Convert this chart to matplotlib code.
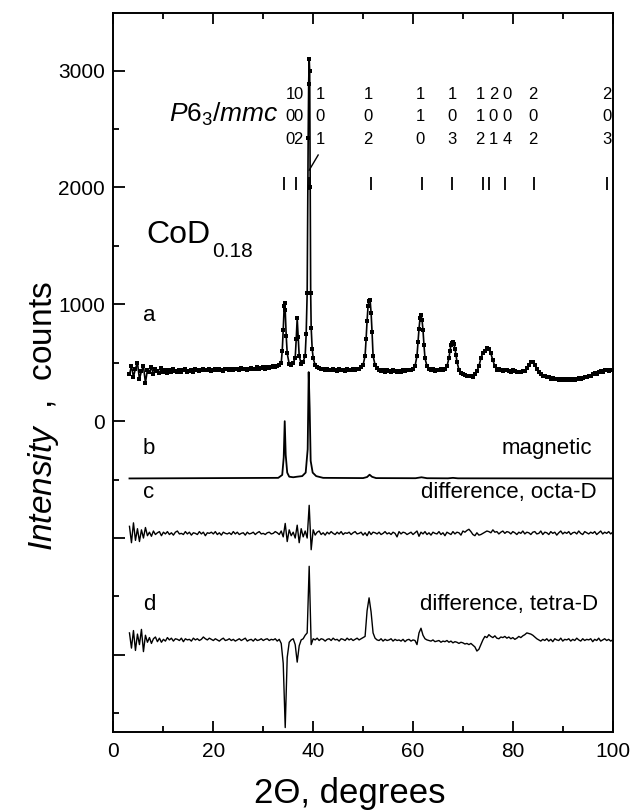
import numpy as np
import matplotlib
matplotlib.use('Agg')
import matplotlib.pyplot as plt
from matplotlib.ticker import MultipleLocator, FuncFormatter

plt.rcParams['font.family'] = ['Liberation Sans', 'DejaVu Sans']
plt.rcParams['mathtext.fontset'] = 'custom'
plt.rcParams['mathtext.it'] = 'Liberation Sans:italic'
plt.rcParams['mathtext.rm'] = 'Liberation Sans'

# ---- data -------------------------------------------------------------
# scan grid (2-theta, degrees), 0.4 deg step from 3.2 to 100
angle = np.linspace(3.2, 100.0, 243)

# a: observed pattern, counts
a_counts = [
    400, 470, 380, 450, 500, 360, 430, 470, 330, 440,
    420, 460, 400, 445, 430, 410, 455, 425, 440, 415,
    435, 420, 445, 430, 425, 440, 420, 435, 445, 425,
    430, 440, 425, 445, 435, 430, 440, 450, 435, 440,
    445, 430, 440, 450, 435, 445, 440, 430, 445, 450,
    440, 445, 435, 450, 445, 440, 455, 445, 450, 440,
    450, 455, 445, 450, 460, 450, 455, 460, 450, 465,
    455, 460, 470, 465, 475, 480, 500, 780, 950, 580,
    490, 480, 500, 540, 880, 560, 490, 510, 560, 1100,
    3100, 800, 540, 480, 465, 455, 450, 445, 440, 445,
    440, 435, 445, 440, 430, 445, 435, 440, 430, 445,
    440, 435, 445, 440, 450, 445, 460, 480, 560, 860,
    1030, 930, 560, 480, 455, 440, 430, 440, 425, 435,
    430, 425, 435, 430, 420, 430, 425, 435, 430, 440,
    435, 440, 450, 470, 560, 790, 905, 780, 540, 470,
    450, 440, 445, 430, 440, 435, 445, 440, 450, 470,
    540, 650, 675, 620, 510, 440, 415, 400, 395, 390,
    385, 390, 380, 400, 430, 470, 540, 585, 600, 626,
    615, 580, 520, 470, 440, 445, 440, 430, 440, 435,
    430, 425, 435, 430, 420, 425, 420, 430, 430, 455,
    480, 510, 505, 480, 450, 420, 400, 390, 385, 380,
    375, 365, 370, 360, 365, 355, 365, 350, 360, 355,
    360, 350, 365, 355, 360, 370, 360, 370, 380, 375,
    385, 390, 400, 410, 405, 420, 430, 425, 440, 435,
    430, 440, 435,
]
# extra observed points on the Bragg peaks
a_extra_angle = [33.8, 34.2, 34.3, 34.6, 36.6, 37.0, 38.6, 39.0, 39.1, 39.3,
                 39.4, 39.5, 39.8, 50.6, 51.0, 51.4, 51.8, 61.0, 61.4, 61.8,
                 62.2, 67.4, 67.8, 68.2, 68.6]
a_extra_counts = [600, 990, 1015, 730, 700, 720, 750, 2420, 2890, 3000,
                  2000, 1100, 620, 700, 990, 1040, 760, 680, 880, 870,
                  650, 600, 670, 660, 570]

# b: magnetic contribution
b_angle = [3.2, 33.0, 33.8, 34.1, 34.3, 34.5, 34.8, 35.2, 36.0, 36.8,
           37.8, 38.5, 38.9, 39.1, 39.3, 39.5, 39.9, 40.6, 42.0, 50.0,
           50.8, 51.3, 51.8, 52.6, 60.5, 61.7, 62.8, 67.0, 68.0, 69.0, 100.0]
b_counts = [0, 5, 30, 180, 490, 200, 50, 15, 10, 15,
            20, 50, 250, 910, 600, 150, 50, 20, 5, 3,
            12, 32, 14, 3, 2, 10, 2, 1, 5, 1, 0]

# c: difference curve, octahedral D model
c_counts = [
    60, -80, 90, -60, 40, -70, 30, -40, 50, -20,
    10, -25, 20, -10, 5, 15, -20, 10, -5, 15,
    -10, 5, -15, 10, 20, -5, 0, -10, 15, -5,
    10, -15, 5, 0, -10, 15, -5, 10, -20, 5,
    0, 10, -5, 15, -10, 5, -15, 10, 0, -5,
    5, -10, 15, -5, 10, -10, 0, 5, -15, 10,
    -5, 0, 10, -10, 5, 15, -5, 0, -10, 5,
    10, -5, 0, 15, 5, -10, 20, -30, 85, -70,
    30, -20, 10, -40, 70, -80, 40, -30, 20, -40,
    240, -140, 30, -15, 10, 20, -10, 5, -15, 10,
    -5, 15, 0, -10, 10, -5, 15, -10, 5, 0,
    10, -10, 5, 15, -5, 0, 10, -15, 5, -20,
    15, -10, 10, 5, -5, 10, -10, 0, 15, -5,
    5, -10, 10, 0, -30, 15, -5, 10, 5, -10,
    0, 10, -10, 5, 20, -25, 10, -5, 15, -10,
    5, -15, 10, 0, -5, 15, -10, 5, -20, 10,
    0, -10, 15, -5, 10, 5, -15, 20, 10, 25,
    35, 15, -10, -20, 5, -15, -10, 0, 10, 20,
    15, 5, 30, 10, 15, -5, 10, 20, 0, 15,
    10, -5, 15, 5, -10, 10, 0, 20, -5, 10,
    5, -10, 10, 15, -5, 0, 20, -10, 10, 5,
    -10, 15, 0, 10, -15, 5, 20, -5, 10, 0,
    15, -10, 5, 10, -5, 20, 0, -10, 15, 5,
    -5, 10, 0, 15, -10, 5, 20, -5, 10, 0,
    15, -5, 10,
]

# d: difference curve, tetrahedral D model
d_counts = [
    60, -70, 80, -90, 50, -40, 90, -100, 40, -20,
    20, -30, 10, 25, -15, 15, -20, 5, -10, 20,
    0, 15, -10, 10, 5, -5, 15, -15, 10, 0,
    5, -10, 15, 0, 10, -5, 5, 25, 10, 0,
    15, 5, -5, 10, 0, -10, 5, 15, -5, 0,
    10, -5, 5, -10, 0, 10, -5, 5, 15, -10,
    0, 5, -10, 10, -5, 0, 10, -5, 5, 10,
    -5, 5, 0, 10, -10, 5, -30, -200, -750, -150,
    -20, 0, 10, -40, -190, -50, 0, 10, 40, 60,
    630, -40, 10, 0, 15, -5, 10, 5, -10, 5,
    10, -5, 15, 0, 5, -10, 10, 5, -5, 15,
    0, 10, -5, 5, 15, 0, 10, 20, 30, 250,
    360, 240, 60, 15, 0, -5, 10, -10, 5, -5,
    0, 10, -10, 5, -5, 0, -10, 5, -15, 0,
    5, -10, 0, -5, -40, 60, 100, 40, 10, 0,
    -5, -10, 0, -15, -10, -5, -20, -10, -15, -5,
    -20, -10, -25, -15, -20, -30, -20, -25, -35, -30,
    -40, -30, -45, -60, -95, -80, -40, 0, 30, 20,
    45, 30, 20, 35, 15, 10, 25, 20, 30, 15,
    25, 10, 20, 5, 15, 30, 20, 35, 45, 60,
    55, 50, 40, 25, 10, 0, -10, 5, -5, 10,
    -10, 5, -15, 10, 0, -5, 15, -10, 5, 0,
    10, -10, 5, -5, 15, 0, -10, 10, -5, 5,
    0, 10, -15, 5, -5, 15, -10, 0, 10, -5,
    5, -10, 0,
]

# P6_3/mmc reflections
hkl = ['100', '002', '101', '102', '110', '103', '112', '201', '004', '202', '203']
hkl_angle = [34.1, 36.6, 39.2, 51.5, 61.9, 67.9, 74.1, 75.2, 78.4, 84.2, 98.9]

# ---- layout -----------------------------------------------------------
b_offset, c_offset, d_offset = -490, -960, -1872
hkl_label_x = [35.4, 37.0, 41.4, 51.0, 61.4, 67.8, 73.4, 76.1, 78.8, 84.1, 98.8]
hkl_row_y = [2760, 2565, 2375]

fig = plt.figure(figsize=(6.33, 8.10), dpi=100)
ax = fig.add_axes([0.1793, 0.0963, 0.7886, 0.8873])

# observed data: line through all points plus square markers
a_x = np.concatenate([angle, a_extra_angle])
a_y = np.concatenate([a_counts, a_extra_counts])
order = np.argsort(a_x)
ax.plot(a_x[order], a_y[order], color='black', lw=1.2,
        marker='s', ms=3.3, mew=0, zorder=3)

ax.plot(b_angle, np.array(b_counts) + b_offset, color='black', lw=1.3)
ax.plot(angle, np.array(c_counts) + c_offset, color='black', lw=1.0)
ax.plot(angle, np.array(d_counts) + d_offset, color='black', lw=1.0)

# reflection markers and hkl labels
ax.vlines(hkl_angle, 1980, 2090, color='black', lw=1.3)
for lx, ind in zip(hkl_label_x, hkl):
    for ch, ry in zip(ind, hkl_row_y):
        ax.text(lx, ry, ch, ha='center', va='baseline', fontsize=12)
i101 = hkl.index('101')
ax.plot([hkl_angle[i101], hkl_angle[i101] + 1.8], [2148, 2278], color='black', lw=1.0)
ax.text(33.0, 2565, r'$\mathit{P6_3/mmc}$', ha='right', va='baseline', fontsize=19)

# sample label
t = ax.text(6.65, 1523, 'CoD', ha='left', va='baseline', fontsize=23)
ax.annotate('0.18', xy=(1, 0), xycoords=t, xytext=(1, -5), textcoords='offset points',
            ha='left', va='baseline', fontsize=15)

# curve labels
ax.text(5.9, 860, 'a', fontsize=16, va='baseline')
ax.text(5.9, -278, 'b', fontsize=16, va='baseline')
ax.text(5.9, -654, 'c', fontsize=16, va='baseline')
ax.text(5.9, -1618, 'd', fontsize=16, va='baseline')
ax.text(95.9, -278, 'magnetic', fontsize=16, ha='right', va='baseline')
ax.text(96.8, -654, 'difference, octa-D', fontsize=16, ha='right', va='baseline')
ax.text(97.0, -1618, 'difference, tetra-D', fontsize=16, ha='right', va='baseline')

# axes
ax.set_xlim(0, 100)
ax.set_ylim(-2660, 3491)
ax.xaxis.set_major_locator(MultipleLocator(20))
ax.xaxis.set_minor_locator(MultipleLocator(10))
ax.yaxis.set_major_locator(MultipleLocator(1000))
ax.yaxis.set_minor_locator(MultipleLocator(500))
ax.yaxis.set_major_formatter(FuncFormatter(lambda v, p: f'{v:.0f}' if v >= 0 else ''))
ax.tick_params(which='both', direction='in', top=True, right=False, width=1.3, labelsize=15)
ax.tick_params(axis='x', which='major', length=8, pad=7)
ax.tick_params(axis='x', which='minor', length=4)
ax.tick_params(axis='y', which='major', length=8.5, pad=6)
ax.tick_params(axis='y', which='minor', length=4)
for s in ax.spines.values():
    s.set_linewidth(1.4)

# axis titles
ax.text(0.474, -0.0982, '2Θ, degrees', transform=ax.transAxes,
        ha='center', va='baseline', fontsize=25)
ax.text(-0.1232, 0.44, r'$\mathit{Intensity}$  ,  counts', transform=ax.transAxes,
        rotation=90, rotation_mode='anchor', ha='center', va='baseline', fontsize=24)

fig.savefig('out.png', dpi=100)
